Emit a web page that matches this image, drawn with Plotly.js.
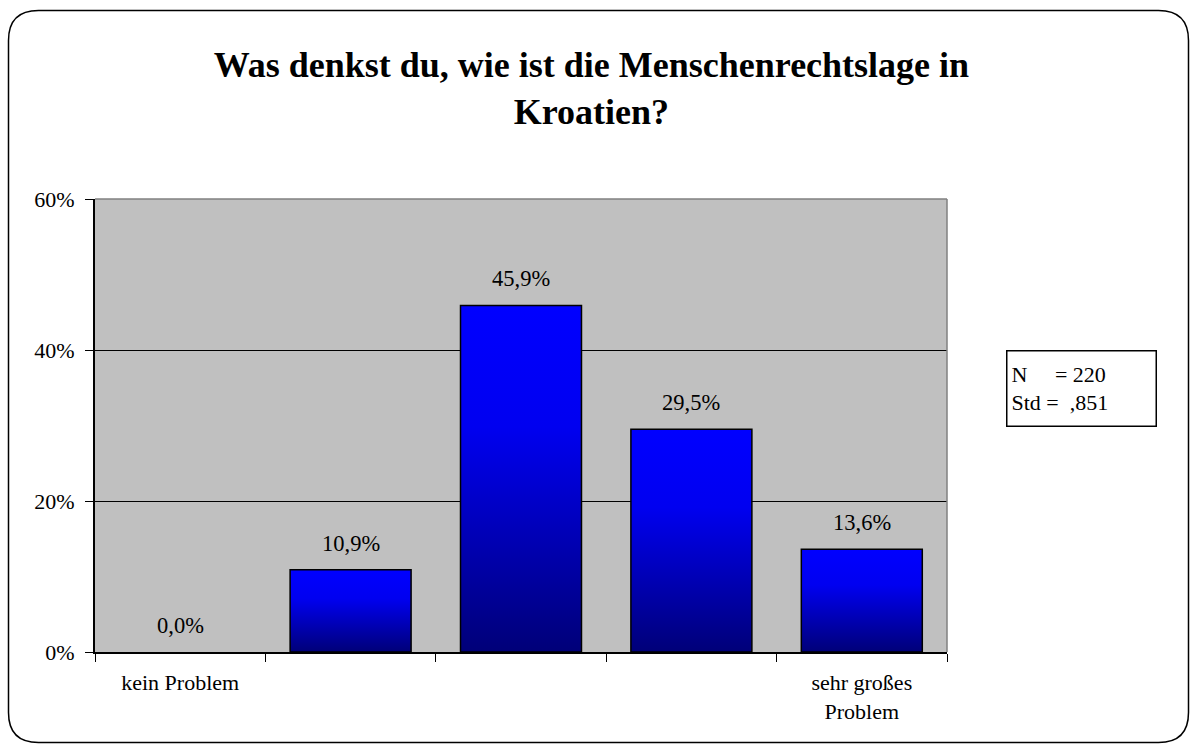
<!DOCTYPE html>
<html>
<head>
<meta charset="utf-8">
<script src="https://cdn.plot.ly/plotly-3.0.1.min.js"></script>
<style>
  html, body { margin: 0; padding: 0; background: #ffffff; }
  #chart { width: 1190px; height: 744px; }
</style>
</head>
<body>
<div id="chart"></div>
<script>
// ---- data ----
const categories = ['kein Problem', 'Stufe 2', 'Stufe 3', 'Stufe 4', 'sehr großes Problem'];
const tickLabels = ['kein Problem', '', '', '', 'sehr großes<br>Problem'];
const values = [0.0, 10.9, 45.9, 29.5, 13.6];
const valueLabels = ['0,0%', '10,9%', '45,9%', '29,5%', '13,6%'];
const yTickVals = [0, 20, 40, 60];
const yTickText = ['0%', '20%', '40%', '60%'];
const statNames = ['N', 'Std'];
const statValues = ['220', ',851'];
const titleText = 'Was denkst du, wie ist die Menschenrechtslage in<br>Kroatien?';

// ---- layout helpers (pixel -> paper) ----
const W = 1190, H = 744;
const M = { l: 95, r: 243, t: 199, b: 92 };
const pw = W - M.l - M.r, ph = H - M.t - M.b;
const px = v => (v - M.l) / pw;
const py = v => (H - M.b - v) / ph;

const FONT = 'Liberation Serif, Times New Roman, serif';

// rounded outer frame
const fl = 8.5, ft = 10.5, fr = 1188.5, fb = 742.5, rad = 30;
const framePath =
  `M ${px(fl)},${py(ft + rad)} Q ${px(fl)},${py(ft)} ${px(fl + rad)},${py(ft)} ` +
  `L ${px(fr - rad)},${py(ft)} Q ${px(fr)},${py(ft)} ${px(fr)},${py(ft + rad)} ` +
  `L ${px(fr)},${py(fb - rad)} Q ${px(fr)},${py(fb)} ${px(fr - rad)},${py(fb)} ` +
  `L ${px(fl + rad)},${py(fb)} Q ${px(fl)},${py(fb)} ${px(fl)},${py(fb - rad)} Z`;

const trace = {
  type: 'bar',
  x: categories,
  y: values,
  width: 0.71,
  marker: { color: '#0000ff', line: { color: '#000000', width: values.map(v => v > 0 ? 1.5 : 0) } },
  hoverinfo: 'skip'
};

const labelAnnots = categories.map((c, i) => ({
  x: i, y: values[i], xref: 'x', yref: 'y',
  text: valueLabels[i], showarrow: false,
  yanchor: 'bottom', yshift: 12,
  font: { family: FONT, size: 22.5, color: '#000' }
}));

const statsText = statNames[0] + '\u00a0\u00a0\u00a0\u00a0\u00a0= ' + statValues[0] +
  '<br>' + statNames[1] + ' =\u00a0 ' + statValues[1];

const layout = {
  width: W, height: H,
  margin: M,
  paper_bgcolor: '#ffffff',
  plot_bgcolor: '#c0c0c0',
  showlegend: false,
  font: { family: FONT, size: 22, color: '#000' },
  title: {
    text: titleText,
    font: { family: FONT, size: 36, color: '#000', weight: 'bold' },
    x: 0.497, xanchor: 'center',
    yref: 'container', y: 1 - 77 / H, yanchor: 'top'
  },
  xaxis: {
    type: 'category',
    categoryorder: 'array', categoryarray: categories,
    tickvals: categories, ticktext: tickLabels,
    tickson: 'boundaries',
    ticks: 'outside', ticklen: 8, tickcolor: '#000', tickwidth: 1,
    showgrid: false, zeroline: false,
    showline: true, linecolor: '#000', linewidth: 1.5,
    range: [-0.5, 4.5],
    ticklabelstandoff: 10,
    tickfont: { family: FONT, size: 22, color: '#000' },
    fixedrange: true
  },
  yaxis: {
    range: [0, 60],
    tickvals: yTickVals, ticktext: yTickText,
    ticks: 'outside', ticklen: 8, tickcolor: '#000', tickwidth: 1,
    showgrid: true, gridcolor: '#000', gridwidth: 1,
    zeroline: false,
    showline: true, linecolor: '#000', linewidth: 2,
    ticklabelstandoff: 6,
    tickfont: { family: FONT, size: 22, color: '#000' },
    fixedrange: true
  },
  shapes: [
    { type: 'line', xref: 'paper', yref: 'paper', x0: 0, x1: 1, y0: 1, y1: 1,
      line: { color: '#808080', width: 1.5 }, layer: 'above' },
    { type: 'line', xref: 'paper', yref: 'paper', x0: 1, x1: 1, y0: 0, y1: 1,
      line: { color: '#808080', width: 1.5 }, layer: 'above' },
    { type: 'path', xref: 'paper', yref: 'paper', path: framePath,
      line: { color: '#000', width: 1.5 }, fillcolor: 'rgba(0,0,0,0)', layer: 'above' }
  ],
  annotations: labelAnnots.concat([{
    xref: 'paper', yref: 'paper', x: px(1006), y: py(350),
    xanchor: 'left', yanchor: 'top', align: 'left',
    text: statsText, showarrow: false,
    width: 140, height: 66,
    bordercolor: '#000', borderwidth: 1.5, borderpad: 4, bgcolor: '#fff',
    font: { family: FONT, size: 22, color: '#000' }
  }])
};

Plotly.newPlot('chart', [trace], layout, { displayModeBar: false, staticPlot: true }).then(gd => {
  const ns = 'http://www.w3.org/2000/svg';
  const svg = gd.querySelector('svg.main-svg');
  let defs = svg.querySelector('defs');
  if (!defs) { defs = document.createElementNS(ns, 'defs'); svg.insertBefore(defs, svg.firstChild); }
  const lg = document.createElementNS(ns, 'linearGradient');
  lg.setAttribute('id', 'barGrad');
  lg.setAttribute('x1', '0'); lg.setAttribute('y1', '0');
  lg.setAttribute('x2', '0'); lg.setAttribute('y2', '1');
  [['0', '#0000ff'], ['0.35', '#0000f0'], ['1', '#000078']].forEach(([o, c]) => {
    const s = document.createElementNS(ns, 'stop');
    s.setAttribute('offset', o); s.setAttribute('stop-color', c);
    lg.appendChild(s);
  });
  defs.appendChild(lg);
  gd.querySelectorAll('.barlayer .point path').forEach(p => { p.style.fill = 'url(#barGrad)'; });
});
</script>
</body>
</html>
